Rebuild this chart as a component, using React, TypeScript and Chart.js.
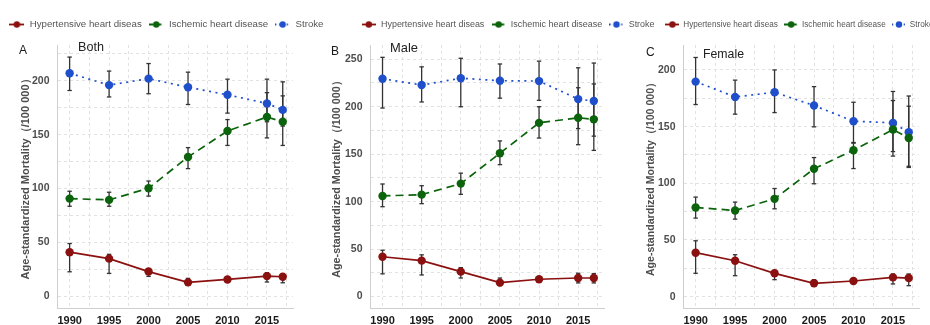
import React, { useEffect, useRef } from 'react';
import { Chart, registerables } from 'chart.js';

Chart.register(...registerables);

// ---------- data ----------
const years = [1990, 1995, 2000, 2005, 2010, 2015, 2017];
const xTickLabels = ['1990', '1995', '2000', '2005', '2010', '2015'];
const seriesNames = ['Hypertensive heart diseas', 'Ischemic heart disease', 'Stroke'];
const yAxisTitle = 'Age-standardized Mortality（/100 000）';

// Both
const bothHyp = [41, 35, 23, 13, 15.7, 18.8, 18.2];
const bothHypLo = [22.8, 21.3, 18.5, 10.5, 13.5, 13.3, 12.6];
const bothHypHi = [49, 39, 25.6, 16.7, 17.5, 22, 21];
const bothIsc = [90.7, 89.5, 100.3, 129.3, 153.4, 166.4, 162];
const bothIscLo = [83.6, 83.6, 93, 118.5, 140, 147, 140];
const bothIscHi = [97.5, 96.6, 107, 138, 164, 189, 186];
const bothStr = [207, 196, 202, 194, 187, 179, 173];
const bothStrLo = [191, 185, 188, 178, 170, 162, 158];
const bothStrHi = [222, 209, 216, 208, 201.5, 201.5, 199];
const bothYTicks = ['0', '50', '100', '150', '200'];

// Male
const maleHyp = [42, 37.9, 26.3, 14.7, 18.3, 19.6, 19.6];
const maleHypLo = [24, 22.8, 19.6, 11.6, 16, 14.4, 14.4];
const maleHypHi = [48.8, 44, 30.5, 19.6, 20.5, 24.6, 24.2];
const maleIsc = [106, 107.4, 119, 151, 183, 188.4, 186.7];
const maleIscLo = [94.7, 97.9, 107.7, 139, 167, 160, 154];
const maleIscHi = [118.6, 116.8, 130, 164, 200, 220, 224];
const maleStr = [229.5, 222.8, 230, 227.4, 227, 208, 206];
const maleStrLo = [198.6, 205, 200, 209, 206.7, 177, 169];
const maleStrHi = [252, 242, 251, 245, 248, 241, 246];
const maleYTicks = ['0', '50', '100', '150', '200', '250'];

// Female
const femHyp = [38.8, 31.7, 20.6, 11.8, 13.8, 17, 16.4];
const femHypLo = [20.6, 18.5, 15, 9.1, 12, 11.2, 9.7];
const femHypHi = [49.3, 37, 23.2, 15, 15.8, 20, 20];
const femIsc = [78.7, 76, 86.3, 112.8, 129.2, 147.4, 140];
const femIscLo = [69.3, 68.4, 77.5, 99.6, 113, 124, 114];
const femIscHi = [87.8, 83.4, 95.4, 122.7, 135.4, 173, 168];
const femStr = [189.7, 176.2, 180.3, 168.6, 154.8, 153.3, 145];
const femStrLo = [169.5, 161, 162.4, 149.8, 136, 128, 115];
const femStrHi = [211, 191, 200, 185.3, 171.5, 181, 177];
const femYTicks = ['0', '50', '100', '150', '200'];

// ---------- styles ----------
const FONT = "'Liberation Sans', Arial, Helvetica, sans-serif";
const COLORS = ['#8b1010', '#0b640b', '#1f4fcb'];
const DASHES: number[][] = [[], [8, 5], [2, 4.5]];
const GRID = '#e2e2e2';
const AXIS = '#cfcfcf';
const ERR = '#333333';
const X_MIN = 1988.4;
const X_MAX = 2018.3;

type PanelDef = {
  letter: string;
  title: string;
  values: number[][];
  lows: number[][];
  highs: number[][];
  yTicks: string[];
  yMin: number;
  yMax: number;
  // layout
  left: number;
  width: number;
  yWidth: number;
  rightWidth: number;
  legendFont: number;
  pointWidth: number;
  markerWidth: number;
  titleFont: number;
  titlePad: number;
  letterPos: [number, number];
  titlePos: [number, number, number];
};

const panels: PanelDef[] = [
  {
    letter: 'A', title: 'Both',
    values: [bothHyp, bothIsc, bothStr], lows: [bothHypLo, bothIscLo, bothStrLo], highs: [bothHypHi, bothIscHi, bothStrHi],
    yTicks: bothYTicks, yMin: -10.8, yMax: 233.2,
    left: 0, width: 330, yWidth: 57, rightWidth: 37,
    legendFont: 9.7, pointWidth: 16, markerWidth: 15,
    titleFont: 11, titlePad: 19.4,
    letterPos: [19, 44.3], titlePos: [78, 41.3, 12.6],
  },
  {
    letter: 'B', title: 'Male',
    values: [maleHyp, maleIsc, maleStr], lows: [maleHypLo, maleIscLo, maleStrLo], highs: [maleHypHi, maleIscHi, maleStrHi],
    yTicks: maleYTicks, yMin: -12, yMax: 265,
    left: 313, width: 348, yWidth: 57, rightWidth: 57,
    legendFont: 8.95, pointWidth: 15.5, markerWidth: 14,
    titleFont: 10.8, titlePad: 17.5,
    letterPos: [331, 44.8], titlePos: [390, 42, 12.9],
  },
  {
    letter: 'C', title: 'Female',
    values: [femHyp, femIsc, femStr], lows: [femHypLo, femIscLo, femStrLo], highs: [femHypHi, femIscHi, femStrHi],
    yTicks: femYTicks, yMin: -10, yMax: 222,
    left: 623, width: 317, yWidth: 60, rightWidth: 21,
    legendFont: 8.2, pointWidth: 13.5, markerWidth: 14,
    titleFont: 10.6, titlePad: 21.6,
    letterPos: [646, 45.8], titlePos: [703, 47.6, 12.3],
  },
];

function makeMarker(color: string, dash: number[], w: number): HTMLCanvasElement {
  const h = 9;
  const c = document.createElement('canvas');
  c.width = w;
  c.height = h;
  const ctx = c.getContext('2d')!;
  ctx.strokeStyle = color;
  ctx.lineWidth = 1.8;
  ctx.setLineDash(dash.length ? dash.map((d) => d * 0.6) : []);
  ctx.beginPath();
  ctx.moveTo(0, h / 2);
  ctx.lineTo(w, h / 2);
  ctx.stroke();
  ctx.setLineDash([]);
  ctx.fillStyle = color;
  ctx.beginPath();
  ctx.arc(w / 2, h / 2, 3.2, 0, Math.PI * 2);
  ctx.fill();
  return c;
}

function Panel({ p }: { p: PanelDef }) {
  const ref = useRef<HTMLCanvasElement | null>(null);

  useEffect(() => {
    if (!ref.current) return;
    const markers = COLORS.map((c, k) => makeMarker(c, DASHES[k], p.markerWidth));

    const xGrid: number[] = [];
    for (let v = 1990; v <= X_MAX; v += 2.5) xGrid.push(v);
    const yGrid: number[] = [];
    for (let v = 0; v <= p.yMax; v += 25) yGrid.push(v);

    const seriesSets = p.values.map((vals, k) => ({
      type: 'line' as const,
      label: seriesNames[k],
      data: years.map((x, i) => ({ x, y: vals[i] })),
      borderColor: COLORS[k],
      backgroundColor: COLORS[k],
      borderWidth: 1.7,
      borderDash: DASHES[k],
      pointRadius: 4.2,
      pointBackgroundColor: COLORS[k],
      pointBorderColor: COLORS[k],
      pointBorderWidth: 0,
      tension: 0,
      order: 0,
      xAxisID: 'x',
      yAxisID: 'y',
    }));

    const errSets = p.values.map((_, k) => ({
      type: 'line' as const,
      label: 'err' + k,
      data: years.flatMap((x, i) => [
        { x, y: p.lows[k][i] },
        { x, y: p.highs[k][i] },
        { x, y: null },
      ]),
      borderColor: ERR,
      borderWidth: 1.3,
      pointStyle: 'line' as const,
      pointRadius: 2.2,
      pointBorderColor: ERR,
      pointBorderWidth: 1.3,
      spanGaps: false,
      order: 1,
      xAxisID: 'x',
      yAxisID: 'y',
    }));

    const lf = p.legendFont;
    const padTop = 24.5 - 6.5 - lf / 2;
    const spacer = 10.5 - lf / 2;

    const chart = new Chart(ref.current, {
      type: 'line',
      data: { datasets: [...seriesSets, ...errSets] as any },
      options: {
        animation: false,
        responsive: false,
        devicePixelRatio: 1,
        events: [],
        layout: { padding: { top: padTop, left: 0, right: 0, bottom: 0 } },
        plugins: {
          tooltip: { enabled: false },
          title: { display: false },
          legend: {
            display: true,
            position: 'top',
            align: 'end',
            labels: {
              usePointStyle: true,
              pointStyleWidth: p.pointWidth,
              padding: 6.5,
              color: '#555555',
              font: { family: FONT, size: lf },
              generateLabels: (ch: any) =>
                (Chart.defaults.plugins.legend.labels.generateLabels as any)(ch)
                  .filter((it: any) => it.datasetIndex < 3)
                  .map((it: any) => ({ ...it, pointStyle: markers[it.datasetIndex] })),
            },
          },
        },
        scales: {
          x: {
            type: 'linear',
            position: 'bottom',
            min: X_MIN,
            max: X_MAX,
            offset: false,
            afterBuildTicks: (s: any) => {
              s.ticks = xGrid.map((v) => ({ value: v }));
            },
            afterFit: (s: any) => {
              s.height = 17;
            },
            grid: { color: GRID, lineWidth: 1, drawTicks: false },
            border: { display: true, color: AXIS, width: 1, dash: [3, 3] },
            ticks: {
              autoSkip: false,
              maxRotation: 0,
              padding: 6,
              color: '#1a1a1a',
              font: { family: FONT, size: 11, weight: 'bold' },
              callback: (v: any) => (xTickLabels.includes(String(v)) ? String(v) : ''),
            },
          },
          y: {
            type: 'linear',
            position: 'left',
            min: p.yMin,
            max: p.yMax,
            afterBuildTicks: (s: any) => {
              s.ticks = yGrid.map((v) => ({ value: v }));
            },
            afterFit: (s: any) => {
              s.width = p.yWidth;
            },
            grid: { color: GRID, lineWidth: 1, drawTicks: false },
            border: { display: true, color: AXIS, width: 1, dash: [3, 3] },
            ticks: {
              autoSkip: false,
              padding: 7.5,
              color: '#4d4d4d',
              font: { family: FONT, size: 10.5, weight: 'bold' },
              callback: (v: any) => (p.yTicks.includes(String(v)) ? String(v) : ''),
            },
            title: {
              display: true,
              text: yAxisTitle,
              color: '#4d4d4d',
              font: { family: FONT, size: p.titleFont, weight: 'bold' },
              padding: { top: p.titlePad, bottom: 0 },
            },
          },
          xTop: {
            type: 'linear',
            position: 'top',
            display: true,
            grid: { display: false, drawTicks: false },
            border: { display: false },
            ticks: { display: false },
            afterFit: (s: any) => {
              s.height = spacer;
            },
          },
          yRight: {
            type: 'linear',
            position: 'right',
            display: true,
            grid: { display: false, drawTicks: false },
            border: { display: false },
            ticks: { display: false },
            afterFit: (s: any) => {
              s.width = p.rightWidth;
            },
          },
        } as any,
      },
    });
    return () => chart.destroy();
  }, [p]);

  return (
    <>
      <canvas
        ref={ref}
        width={p.width}
        height={325}
        style={{ position: 'absolute', left: p.left, top: 0, width: p.width, height: 325 }}
      />
      <div
        style={{
          position: 'absolute', left: p.letterPos[0], top: p.letterPos[1],
          fontFamily: FONT, fontSize: 12, lineHeight: 1, color: '#1a1a1a', whiteSpace: 'nowrap',
        }}
      >
        {p.letter}
      </div>
      <div
        style={{
          position: 'absolute', left: p.titlePos[0], top: p.titlePos[1],
          fontFamily: FONT, fontSize: p.titlePos[2], lineHeight: 1, color: '#222222', whiteSpace: 'nowrap',
        }}
      >
        {p.title}
      </div>
    </>
  );
}

export default function App() {
  return (
    <div
      style={{
        position: 'absolute', left: 0, top: 0, width: 930, height: 325,
        overflow: 'hidden', background: '#ffffff',
      }}
    >
      {panels.map((p) => (
        <Panel key={p.letter} p={p} />
      ))}
    </div>
  );
}
